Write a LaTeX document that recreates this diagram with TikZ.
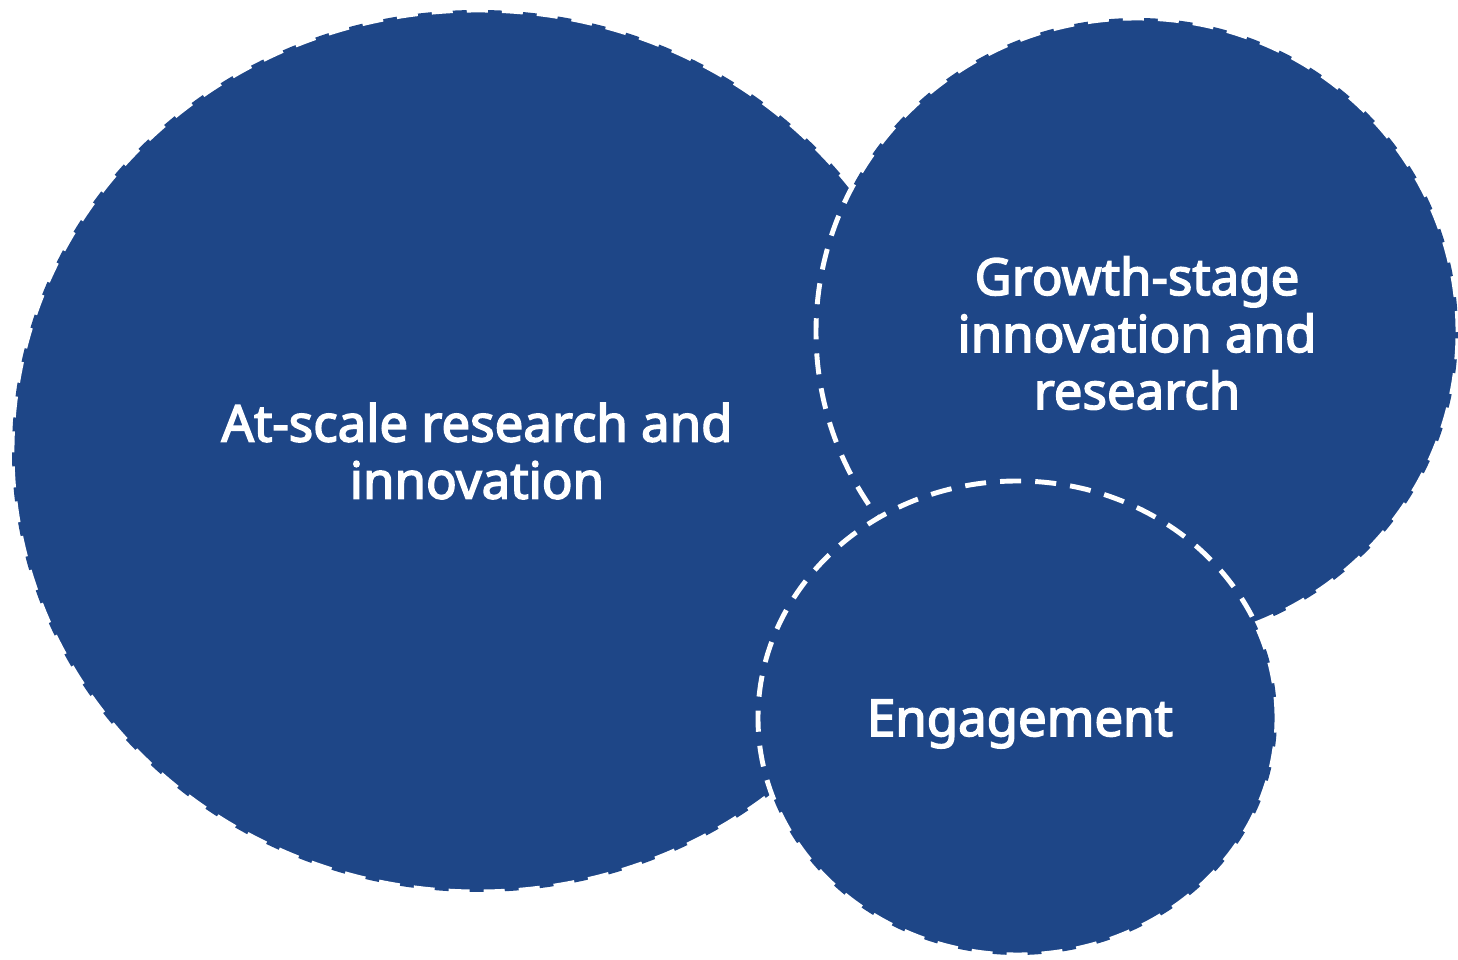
\documentclass[tikz,border=0pt]{standalone}
\usepackage{fontspec}
\setmainfont{Noto Sans}[AutoFakeBold=3]
\usepackage{tikz}
\definecolor{bubbleblue}{RGB}{30,70,135}
\tikzset{
  bubble/.style={fill=bubbleblue, draw=white, line width=2.8pt,
    dash pattern=on 12pt off 8pt},
  label/.style={text=white, font=\bfseries\fontsize{29}{32.5}\selectfont,
    align=center}
}

\begin{document}
\begin{tikzpicture}[x=0.02cm, y=0.02cm]
  \useasboundingbox (0,0) rectangle (1458,960);

  % the three bubbles, back to front
  \filldraw[bubble] (478,509) ellipse [x radius=466, y radius=441];
  \filldraw[bubble] (1137,628) ellipse [x radius=321, y radius=314];
  \filldraw[bubble] (1017.5,242) ellipse [x radius=259.5, y radius=237];

  \node[label] (atscale) at (477,509) {At-scale research and\\innovation};
  \node[label] (growth) at (1137,627) {Growth-stage\\innovation and\\research};
  \node[label] (engage) at (1020,236) {Engagement};
\end{tikzpicture}
\end{document}
